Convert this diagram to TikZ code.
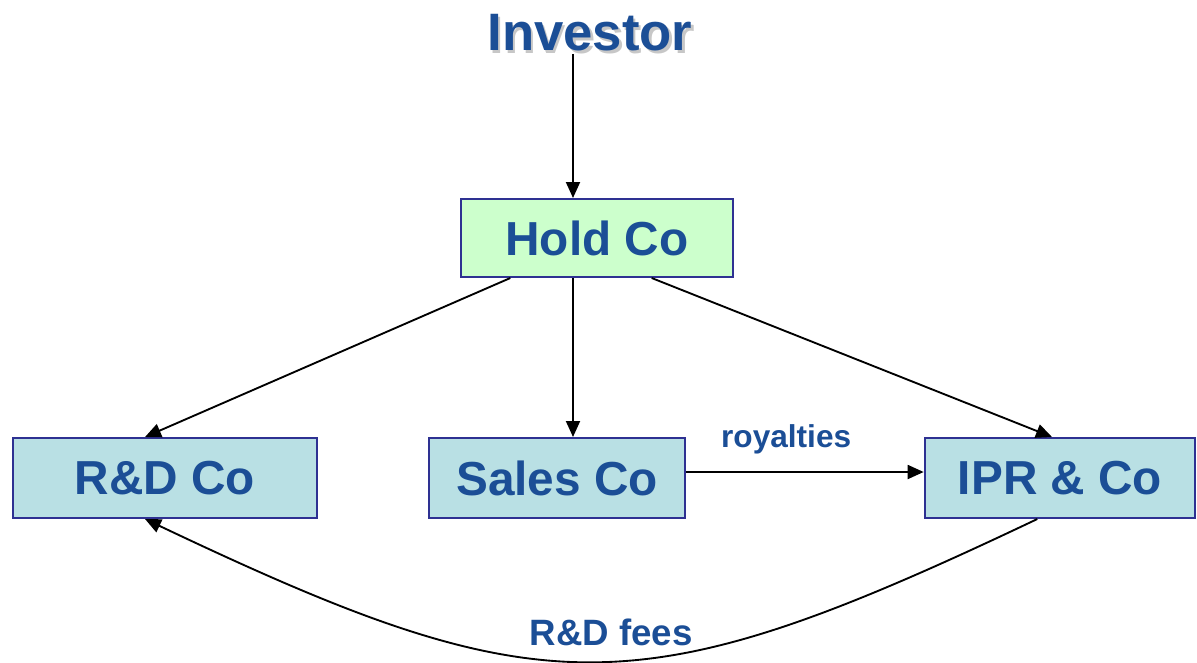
\documentclass[tikz,border=0pt]{standalone}
\usepackage{fontspec}
\setmainfont{Liberation Sans}
\usepackage{tikz}
\usetikzlibrary{arrows.meta, positioning, calc}
\usepackage{xcolor}
\definecolor{ink}{HTML}{1B4E96}
\definecolor{frame}{HTML}{2E3192}
\definecolor{holdfill}{HTML}{CCFFCC}
\definecolor{cofill}{HTML}{B9E0E4}
\newcommand{\shadowed}[1]{\makebox[0pt][l]{\hspace{1.8pt}\raisebox{-1.8pt}{\textcolor{black!22}{#1}}}#1}
\tikzset{
  coBox/.style={rectangle, draw=frame, line width=1.5pt, fill=cofill,
                minimum height=60pt, inner sep=0pt, text=ink,
                font=\fontsize{35.8}{40}\selectfont\bfseries},
  holdBox/.style={coBox, fill=holdfill, minimum height=58.5pt},
  arr/.style={-{Triangle[length=12pt, width=10.5pt]}, line width=1.4pt, draw=black},
  lbl/.style={text=ink, inner sep=0pt},
}
\begin{document}
\begin{tikzpicture}[x=0.75pt, y=-0.75pt]
  \useasboundingbox (0,0) rectangle (1197,662);

  %% -- nodes ----------------------------------------------------------------
  \node[lbl, font=\fontsize{39.5}{44}\selectfont\bfseries] (investor) at (590,34) {\shadowed{Investor}};
  \node[holdBox, minimum width=204pt] (hold)  at (597,238)  {Hold Co};
  \node[coBox,   minimum width=228pt] (rnd)   at (165,478)  {R\&D Co};
  \node[coBox,   minimum width=192pt] (sales) at (557,478)  {Sales Co};
  \node[coBox,   minimum width=203pt] (ipr)   at (1060,478) {IPR \& Co};

  %% -- ownership arrows -----------------------------------------------------
  \draw[arr] ([xshift=-18pt]hold.north |- investor.south) -- ([xshift=-18pt]hold.north);
  \draw[arr] ([xshift=-65pt]hold.south) -- ([xshift=-15pt]rnd.north);
  \draw[arr] ([xshift=-18pt]hold.south) -- ([xshift=-18pt]hold.south |- sales.north);
  \draw[arr] ([xshift=41pt]hold.south)  -- ([xshift=-6pt]ipr.north);

  %% -- flows ----------------------------------------------------------------
  \draw[arr] ([yshift=4.5pt]sales.east) -- ([yshift=4.5pt]ipr.west)
    node[midway, above=13pt, xshift=-14pt, lbl, font=\fontsize{23.7}{28}\selectfont\bfseries] {royalties};
  \draw[arr] ([xshift=-17pt]ipr.south) .. controls +(-400,190) and +(400,190) .. ([xshift=-15pt]rnd.south)
    node[pos=0.5, above=11pt, xshift=15pt, lbl, font=\fontsize{27.5}{32}\selectfont\bfseries] {R\&D fees};

\end{tikzpicture}
\end{document}
